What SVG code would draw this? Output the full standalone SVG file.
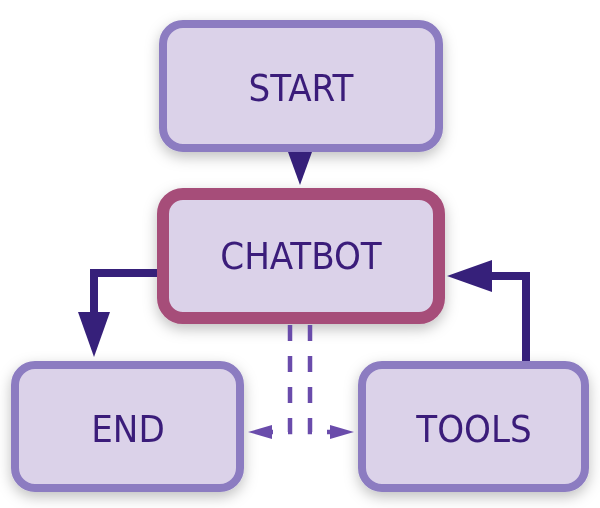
<svg xmlns="http://www.w3.org/2000/svg" width="600" height="508" viewBox="0 0 600 508">
<style>
.box{fill:#dbd2e9;stroke:#8c7cc1;stroke-width:8}
.main{stroke:#a64d79;stroke-width:12}
.lbl{font-family:"DejaVu Sans Condensed","DejaVu Sans",sans-serif;font-size:38px;fill:#3a1f7a;text-anchor:middle}
.solid{fill:none;stroke:#36207a;stroke-width:8}
.dash{fill:none;stroke:#6a4cab;stroke-width:4.5;stroke-dasharray:16 15}
</style>
<defs>
<filter id="sh" x="-20%" y="-20%" width="140%" height="150%">
<feDropShadow dx="0" dy="5" stdDeviation="7" flood-color="#000" flood-opacity="0.25"/>
</filter>
<marker id="big" markerUnits="userSpaceOnUse" viewBox="0 0 45 32" refX="0" refY="16" markerWidth="45" markerHeight="32" orient="auto">
<path d="M0,0 L45,16 L0,32 Z" fill="#36207a"/>
</marker>
<marker id="small" markerUnits="userSpaceOnUse" viewBox="0 0 33 24" refX="0" refY="12" markerWidth="33" markerHeight="24" orient="auto">
<path d="M0,0 L33,12 L0,24 Z" fill="#36207a"/>
</marker>
<marker id="dh" markerUnits="userSpaceOnUse" viewBox="0 0 24 14" refX="0" refY="7" markerWidth="24" markerHeight="14" orient="auto">
<path d="M0,0 L24,7 L0,14 Z" fill="#6a4cab"/>
</marker>
</defs>
<g id="start" filter="url(#sh)">
<rect class="box" x="163" y="24" width="276" height="124" rx="20"/>
<text class="lbl" x="301" y="101">START</text>
</g>
<g id="chatbot" filter="url(#sh)">
<rect class="box main" x="163" y="194" width="276" height="124" rx="20"/>
<text class="lbl" x="301" y="269">CHATBOT</text>
</g>
<g id="end" filter="url(#sh)">
<rect class="box" x="15" y="365" width="225" height="123" rx="20"/>
<text class="lbl" x="128" y="442">END</text>
</g>
<g id="tools" filter="url(#sh)">
<rect class="box" x="362" y="365" width="223" height="123" rx="20"/>
<text class="lbl" x="474" y="442">TOOLS</text>
</g>
<g id="connectors">
<path class="solid" style="stroke:none" d="M300,150 V152" marker-end="url(#small)"/>
<path class="solid" d="M157,273 H94 V312" marker-end="url(#big)"/>
<path class="solid" d="M526,361 V276 H492" marker-end="url(#big)"/>
<path class="dash" d="M290,325 V432 H272" marker-end="url(#dh)"/>
<path class="dash" d="M310,325 V432 H330" marker-end="url(#dh)"/>
</g>
</svg>
